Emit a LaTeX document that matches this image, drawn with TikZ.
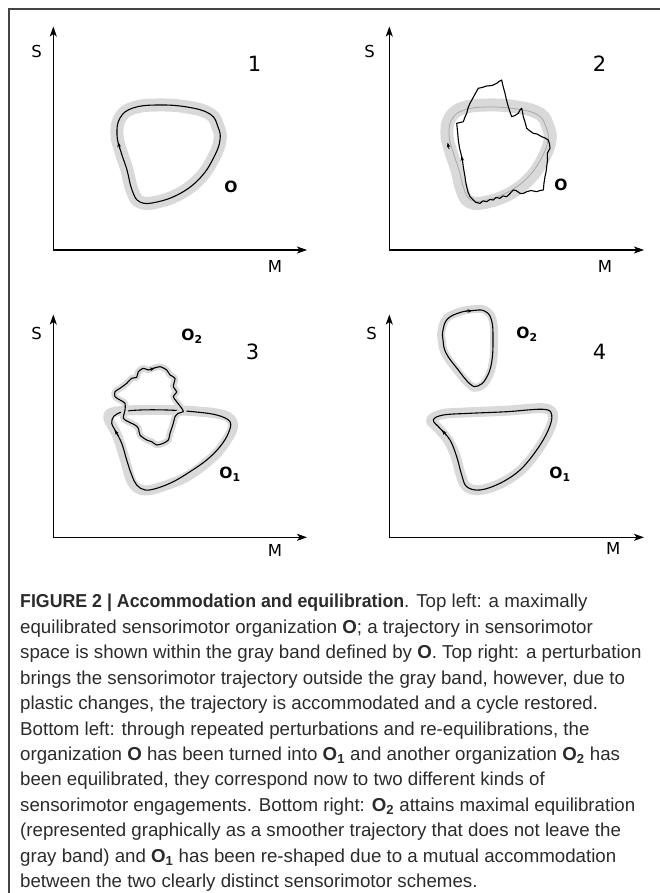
\documentclass[tikz,border=0pt]{standalone}
\usepackage{fontspec}
\setmainfont{Liberation Sans}
\newfontfamily\dvfont{DejaVu Sans}
\usetikzlibrary{arrows.meta}
\definecolor{bandgray}{HTML}{D9D9D9}
\definecolor{thingray}{HTML}{A8A8A8}
\definecolor{captext}{HTML}{2B2B2B}
\definecolor{framegray}{HTML}{444444}
\tikzset{
  axisline/.style={line width=1.3pt, black, -{Stealth[length=10pt,width=7pt,inset=2.5pt]}},
  band/.style={bandgray, line width=13pt, line join=round},
  thinband/.style={bandgray, line width=6.5pt, line join=round},
  traj/.style={black, line width=1.1pt, line join=round},
  oldtraj/.style={thingray, line width=0.8pt, line join=round},
  tiparrow/.style={black, line width=0.8pt, -{Stealth[length=5pt,width=3.6pt]}},
  axlab/.style={font=\dvfont\fontsize{16.5}{18}\selectfont, inner sep=0pt},
  numlab/.style={font=\dvfont\fontsize{21}{23}\selectfont, inner sep=0pt},
  olab/.style={font=\dvfont\bfseries\fontsize{15.5}{17}\selectfont, inner sep=0pt},
  capline/.style={anchor=base west, inner sep=0pt, font=\fontsize{18.7}{22}\selectfont, text=captext},
}
\begin{document}
\begin{tikzpicture}[x=1pt, y=-1pt]
\useasboundingbox (0,0) rectangle (660,893);
% frame (top and left only)
\coordinate (fA) at (9,893);
\coordinate (fB) at (9,9);
\coordinate (fC) at (660,9);
\draw[framegray, line width=1.3pt] (fA) -- (fB) -- (fC);

% ---------------- Panel 1 ----------------
\coordinate (p1o) at (53.3,250);
\coordinate (p1y) at (53.3,26.5);
\coordinate (p1x) at (307,250);
\draw[axisline] (p1o) -- (p1y);
\draw[axisline] (p1o) -- (p1x);
\node[axlab] (p1S) at (36.7,51.7) {S};
\node[axlab] (p1M) at (275,266) {M};
\node[numlab] (p1n) at (254.5,64) {1};
\node[olab] (p1O) at (231,187) {O};
\draw[band] plot[smooth cycle, tension=0.7] coordinates {(117,135) (120,118) (133,108) (157,105) (187,107) (210,114) (218,127) (220,140) (214,157) (201,177) (181,193) (157,202) (140,202) (132,190) (127,170) (121,152)};
\draw[traj] plot[smooth cycle, tension=0.7] coordinates {(117,135) (120,118) (133,108) (157,105) (187,107) (210,114) (218,127) (220,140) (214,157) (201,177) (181,193) (157,202) (140,202) (132,190) (127,170) (121,152)};
\coordinate (p1a1) at (119.6,149);
\coordinate (p1a2) at (118.2,142);
\draw[tiparrow] (p1a1) -- (p1a2);

% ---------------- Panel 2 ----------------
\coordinate (p2o) at (389.3,250);
\coordinate (p2y) at (389.3,26.5);
\coordinate (p2x) at (644,250);
\draw[axisline] (p2o) -- (p2y);
\draw[axisline] (p2o) -- (p2x);
\node[axlab] (p2S) at (369.5,51.7) {S};
\node[axlab] (p2M) at (605,266) {M};
\node[numlab] (p2n) at (599.5,64) {2};
\node[olab] (p2O) at (561,185) {O};
\draw[band] plot[smooth cycle, tension=0.7] coordinates {(447,135) (450,118) (463,108) (487,105) (517,107) (540,114) (548,127) (550,140) (544,157) (531,177) (511,193) (487,202) (470,202) (462,190) (457,170) (451,152)};
\draw[oldtraj] plot[smooth cycle, tension=0.7] coordinates {(449,135) (452,119) (464,110) (487,107) (517,109) (538,115) (546,127) (548,140) (542,157) (529,176) (510,191) (487,200) (471,200) (464,189) (459,170) (453,152)};
\draw[traj] plot coordinates {(461.7,156.7) (459.5,148) (458.3,140) (457.5,131) (456.7,123.3) (460,122.5) (463.3,121.7) (465,117) (466.7,113.3) (468,108) (470,103.3) (474,96) (478.3,88.3) (482,87.5) (486.7,86) (492,85.5) (496.7,83.3) (499,81.5) (501.7,80) (503,86) (505,93.3) (506.5,100) (508.3,106.7) (510,112) (511.7,116.7) (515,115.5) (518.3,113.3) (520,110) (521.7,108.3) (522.5,112) (523.3,116.7) (525,122) (526.7,128.3) (530,131) (533.3,133.3) (537,134) (541.7,136.7) (545,138) (548.3,140) (549.5,144) (550,148.3) (547.3,153.3) (547.5,160) (546.7,166.7) (546,172) (545,176.7) (544,183) (543.3,190) (540,190.5) (536.7,191.7) (531,190.5) (526.7,191.7) (523,193.5) (520,193.3) (516,190.5) (513.3,190) (510,193.5) (506.7,196.7) (503,196) (500,198.3) (496,197.5) (493.3,200) (490,199.5) (486.7,201.7) (483,201) (480,203.3) (476,202.5) (473.3,200) (470,196.7) (468,192) (466.7,186.7) (465.5,181) (465,176.7) (464,171) (463.3,166.7) (462.5,161)} -- cycle;
\coordinate (p2a1) at (449,149);
\coordinate (p2a2) at (447.6,142.5);
\draw[tiparrow] (p2a1) -- (p2a2);
\coordinate (p2b1) at (462.8,163);
\coordinate (p2b2) at (461.6,156);
\draw[tiparrow] (p2b1) -- (p2b2);

% ---------------- Panel 3 ----------------
\coordinate (p3o) at (53.3,537.3);
\coordinate (p3y) at (53.3,314.5);
\coordinate (p3x) at (307,537.3);
\draw[axisline] (p3o) -- (p3y);
\draw[axisline] (p3o) -- (p3x);
\node[axlab] (p3S) at (36.7,333.3) {S};
\node[axlab] (p3M) at (275,550) {M};
\node[numlab] (p3n) at (252.5,351.7) {3};
\node[olab] (p3O2) at (192,336) {O\textsubscript{2}};
\node[olab] (p3O1) at (230,474) {O\textsubscript{1}};
% O1 band and trajectory
\draw[bandgray, line width=10pt, line join=round] plot[smooth cycle, tension=0.6] coordinates {(108.5,418.5) (114,412) (143.3,410) (186.7,410.7) (223.3,415) (233,425) (226.7,440) (213.3,456.7) (186.7,476.7) (156.7,488.3) (141.7,490) (131.7,481.7) (125,460) (117,435)};
\draw[traj] plot[smooth cycle, tension=0.6] coordinates {(115,430) (111.7,423.3) (114,416) (123.3,411.7) (140,410) (166.7,410) (193.3,411.7) (216.7,415) (230,421.7) (228.3,433.3) (220,446.7) (206.7,460) (190,471.7) (173.3,481.7) (156.7,488.3) (145,490) (136.7,485) (131.7,475) (126.7,460) (121.7,443.3)};
\coordinate (p3a1) at (118.6,436);
\coordinate (p3a2) at (114.5,430);
\draw[tiparrow] (p3a1) -- (p3a2);
% O2 jagged trajectory with band
\draw[thinband] plot[smooth cycle, tension=0.45] coordinates {(115,391.7) (120,388.3) (126.7,383.3) (131.7,378.3) (136.7,377.3) (138.3,371.7) (143.3,368.3) (148.3,370) (153.3,368.3) (160,366.7) (166.7,370) (170,375) (175,378.3) (173.3,386.7) (176.7,391.7) (173.3,396.7) (176.7,401.7) (181.7,408.3) (183.3,411.7) (178.3,413.3) (175,416.7) (173.3,423.3) (171.7,428.3) (170,433.3) (168.3,440) (163.3,443.3) (156.7,445) (151.7,441.7) (146.7,440) (140,435) (138.3,428.3) (135,425) (128.3,421.7) (123.3,418.3) (125,410) (125,403.3) (120,400) (115,396.7)};
\draw[traj] plot[smooth cycle, tension=0.45] coordinates {(115,391.7) (120,388.3) (126.7,383.3) (131.7,378.3) (136.7,377.3) (138.3,371.7) (143.3,368.3) (148.3,370) (153.3,368.3) (160,366.7) (166.7,370) (170,375) (175,378.3) (173.3,386.7) (176.7,391.7) (173.3,396.7) (176.7,401.7) (181.7,408.3) (183.3,411.7) (178.3,413.3) (175,416.7) (173.3,423.3) (171.7,428.3) (170,433.3) (168.3,440) (163.3,443.3) (156.7,445) (151.7,441.7) (146.7,440) (140,435) (138.3,428.3) (135,425) (128.3,421.7) (123.3,418.3) (125,410) (125,403.3) (120,400) (115,396.7)};
\coordinate (p3b1) at (149.5,369.6);
\coordinate (p3b2) at (155,368);
\draw[tiparrow] (p3b1) -- (p3b2);

% ---------------- Panel 4 ----------------
\coordinate (p4o) at (389.3,537.3);
\coordinate (p4y) at (389.3,314.5);
\coordinate (p4x) at (644,537.3);
\draw[axisline] (p4o) -- (p4y);
\draw[axisline] (p4o) -- (p4x);
\node[axlab] (p4S) at (371.7,333.3) {S};
\node[axlab] (p4M) at (613.3,548.3) {M};
\node[numlab] (p4n) at (599.5,351.7) {4};
\node[olab] (p4O2) at (527,334) {O\textsubscript{2}};
\node[olab] (p4O1) at (560,474) {O\textsubscript{1}};
% O2 smooth
\draw[bandgray, line width=8pt] plot[smooth cycle, tension=0.7] coordinates {(441.7,330) (446.7,318.3) (460,311.7) (473.3,309.3) (485,310) (492.7,320) (494,340) (492.7,363.3) (486.7,380) (478.3,387.3) (470,385) (456.7,370) (445,353.3) (441.7,340)};
\draw[traj] plot[smooth cycle, tension=0.7] coordinates {(443,330) (447.5,319) (460,312.5) (473.3,310.5) (484.5,311) (491.5,320) (493,340) (491.5,363.3) (485.7,379) (477.8,386) (470,384) (457.5,369) (446,353) (443,340)};
\coordinate (p4a1) at (466,311.2);
\coordinate (p4a2) at (472.5,310.6);
\draw[tiparrow] (p4a1) -- (p4a2);
% O1
\draw[bandgray, line width=10pt, line join=round] plot[smooth cycle, tension=0.6] coordinates {(438,428) (431,420) (443.3,414) (470,412.3) (506.7,410.7) (543.3,408.3) (553,415) (549.3,430) (537.7,450) (521,470) (501,483.3) (480,490) (466.7,487) (460.7,475) (455.7,456.7) (448,440)};
\draw[traj] plot[smooth cycle, tension=0.6] coordinates {(440,428.3) (433.3,420) (443.3,415) (470,413.3) (506.7,411.7) (543.3,409.3) (551.7,415) (548.3,430) (536.7,450) (520,470) (500,483.3) (480,490) (466.7,486.7) (461.7,475) (456.7,456.7) (450,440)};
\coordinate (p4b1) at (446.5,435.5);
\coordinate (p4b2) at (442,430);
\draw[tiparrow] (p4b1) -- (p4b2);

% ---------------- Caption ----------------
\node[capline] (cap1) at (20,607.7) {\scalebox{0.95}[1]{\textbf{FIGURE 2 | Accommodation and equilibration}}. Top left: a maximally};
\node[capline] (cap2) at (20,633.2) {equilibrated sensorimotor organization \textbf{O}; a trajectory in sensorimotor};
\node[capline] (cap3) at (20,658.6) {space is shown within the gray band defined by \textbf{O}. Top right: a perturbation};
\node[capline] (cap4) at (20,684.1) {brings the sensorimotor trajectory outside the gray band, however, due to};
\node[capline] (cap5) at (20,709.5) {plastic changes, the trajectory is accommodated and a cycle restored.};
\node[capline] (cap6) at (20,735.0) {Bottom left: through repeated perturbations and re-equilibrations, the};
\node[capline] (cap7) at (20,760.4) {organization \textbf{O} has been turned into \textbf{O\textsubscript{1}} and another organization \textbf{O\textsubscript{2}} has};
\node[capline] (cap8) at (20,785.9) {been equilibrated, they correspond now to two different kinds of};
\node[capline] (cap9) at (20,811.3) {sensorimotor engagements. Bottom right: \textbf{O\textsubscript{2}} attains maximal equilibration};
\node[capline] (cap10) at (20,836.8) {(represented graphically as a smoother trajectory that does not leave the};
\node[capline] (cap11) at (20,862.2) {gray band) and \textbf{O\textsubscript{1}} has been re-shaped due to a mutual accommodation};
\node[capline] (cap12) at (20,887.7) {between the two clearly distinct sensorimotor schemes.};
\end{tikzpicture}
\end{document}
